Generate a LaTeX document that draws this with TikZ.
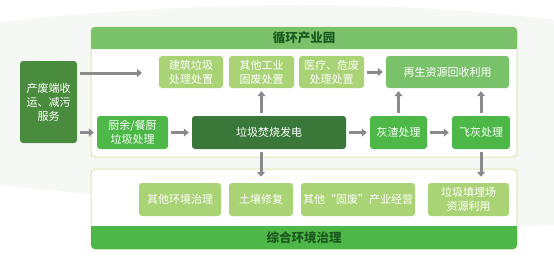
\documentclass[tikz,border=0pt]{standalone}
\usepackage{fontspec}
\setmainfont{Noto Sans CJK SC}
\usepackage{xcolor}
\usepackage{tikz}
\usetikzlibrary{arrows.meta, positioning}
\definecolor{ecovertclair}{RGB}{170,211,118}
\definecolor{ecovertpale}{RGB}{122,194,106}
\definecolor{ecovert}{RGB}{77,183,72}
\definecolor{ecovertmoyen}{RGB}{74,140,62}
\definecolor{ecovertfonce}{RGB}{58,120,58}
\definecolor{ecotitre}{RGB}{28,88,32}
\definecolor{ecobord}{RGB}{218,230,178}
\definecolor{ecogris}{RGB}{138,138,140}
\definecolor{ecofond}{RGB}{246,248,245}

\tikzset{
  boite/.style={rectangle, rounded corners=3pt, text=white, align=center, inner sep=0pt,
                font=\fontsize{11}{14}\selectfont},
  cadre/.style={rectangle, rounded corners=4pt, draw=ecobord, line width=1pt, fill=white, inner sep=0pt},
  fleche/.style={draw=ecogris, line width=3pt, -{Triangle[width=8pt,length=5pt]},
                 shorten <=3pt, shorten >=3pt},
  titre/.style={font=\fontsize{12.5}{14}\selectfont\bfseries, text=ecotitre}
}

\begin{document}
\begin{tikzpicture}[x=1pt, y=-1pt]
  \useasboundingbox (0,0) rectangle (554,266);
  \fill[ecofond] (0,22) .. controls (200,0) and (400,0) .. (554,20) -- (554,225)
    .. controls (400,235) and (200,205) .. (0,185) -- cycle;

  % les deux cadres
  \node[cadre, minimum width=426pt, minimum height=130pt] (parc) at (304,92) {};
  \fill[ecovertpale, rounded corners=4pt] (91,27) rectangle (517,49);
  \fill[ecovertpale] (91,40) rectangle (517,49);
  \node[titre] (parctitre) at (304,38) {循环产业园};

  \node[cadre, minimum width=426pt, minimum height=80pt] (envir) at (304,209) {};
  \fill[ecovert, rounded corners=4pt] (91,226) rectangle (517,249);
  \fill[ecovert] (91,226) rectangle (517,235);
  \node[titre] (envirtitre) at (304,237.5) {综合环境治理};

  % boites
  \node[boite, fill=ecovertmoyen, minimum width=57pt, minimum height=82pt] (chanfei) at (48.5,102) {产废端收\\运、减污\\服务};

  \node[boite, fill=ecovertclair, minimum width=64pt, minimum height=32pt] (jianzhu) at (191,72) {建筑垃圾\\处理处置};
  \node[boite, fill=ecovertclair, minimum width=65pt, minimum height=32pt] (gongye) at (261.5,72) {其他工业\\固废处置};
  \node[boite, fill=ecovertclair, minimum width=65pt, minimum height=32pt] (yiliao) at (331.5,72) {医疗、危废\\处理处置};
  \node[boite, fill=ecovertpale, minimum width=123pt, minimum height=32pt] (zaisheng) at (447.5,72) {再生资源回收利用};

  \node[boite, fill=ecovert, minimum width=71pt, minimum height=33pt] (chuyu) at (132.5,132.5) {厨余/餐厨\\垃圾处理};
  \node[boite, fill=ecovertfonce, minimum width=154pt, minimum height=33pt] (fenshao) at (269,132.5) {垃圾焚烧发电};
  \node[boite, fill=ecovert, minimum width=57pt, minimum height=33pt] (huizha) at (398.5,132.5) {灰渣处理};
  \node[boite, fill=ecovert, minimum width=58pt, minimum height=33pt] (feihui) at (481,132.5) {飞灰处理};

  \node[boite, fill=ecovertclair, minimum width=82pt, minimum height=33pt] (qita) at (180,199.5) {其他环境治理};
  \node[boite, fill=ecovertclair, minimum width=64pt, minimum height=33pt] (turang) at (261,199.5) {土壤修复};
  \node[boite, fill=ecovertclair, minimum width=114pt, minimum height=33pt] (gufei) at (358,199.5) {其他“固废”产业经营};
  \node[boite, fill=ecovertclair, minimum width=81pt, minimum height=33pt] (tianmai) at (468.5,199.5) {垃圾填埋场\\资源利用};

  % fleches
  \coordinate (versparc) at (145,73);
  \draw[fleche] (chanfei.east |- versparc) -- (versparc);
  \draw[fleche] (chanfei.east |- chuyu) -- (chuyu);
  \draw[fleche] (chuyu) -- (fenshao);
  \draw[fleche] (fenshao) -- (huizha);
  \draw[fleche] (huizha) -- (feihui);
  \draw[fleche] (yiliao) -- (zaisheng);
  \draw[fleche] (fenshao.north -| gongye) -- (gongye);
  \draw[fleche] (huizha) -- (huizha |- zaisheng.south);
  \draw[fleche] (feihui) -- (feihui |- zaisheng.south);
  \draw[fleche, shorten >=6pt] (fenshao.south -| turang) -- (turang);
  \draw[fleche, shorten >=6pt] (feihui) -- (tianmai.north -| feihui);
\end{tikzpicture}
\end{document}
